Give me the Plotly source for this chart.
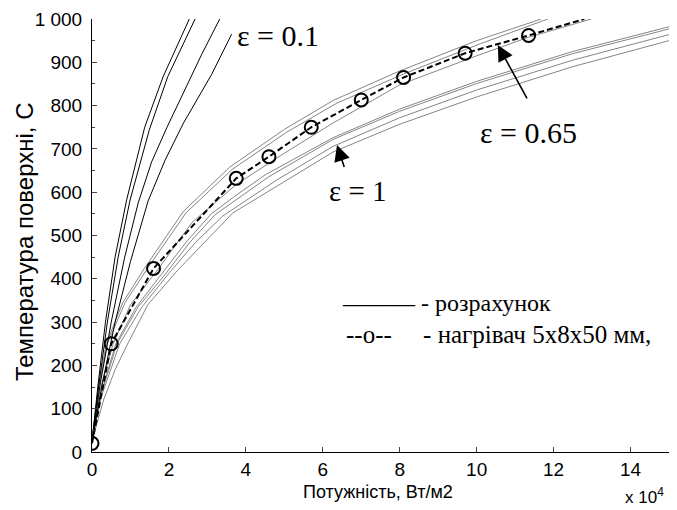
import plotly.graph_objects as go

# Surface temperature vs. heat flux: calculated curves for three emissivities
# and the measured heater curve.

# emissivity 0.1 (black curves)
p_e01_1 = [0, 0.15, 0.35, 0.6, 0.9, 1.37, 1.85, 2.53]
t_e01_1 = [22, 150, 300, 450, 582, 750, 867, 1000]
p_e01_2 = [0, 0.17, 0.4, 0.68, 0.99, 1.49, 1.97, 2.68]
t_e01_2 = [22, 150, 300, 450, 582, 744, 867, 1000]
p_e01_3 = [0, 0.2, 0.5, 0.85, 1.2, 1.55, 1.95, 2.4, 2.85, 3.32]
t_e01_3 = [22, 150, 300, 450, 575, 670, 750, 835, 918, 1000]
p_e01_4 = [0, 0.25, 0.6, 1.0, 1.46, 1.9, 2.38, 2.68, 3.11, 3.63]
t_e01_4 = [22, 150, 300, 440, 580, 674, 760, 805, 872, 965]

# emissivity 0.65 (grey curves)
p_e065_1 = [0, 0.15, 0.37, 0.8, 1.37, 2.37, 3.58, 5.0, 6.27, 8.0, 10.0, 11.68]
t_e065_1 = [25, 140, 250, 345, 425, 555, 658, 745, 812, 880, 950, 1000]
p_e065_2 = [0, 0.16, 0.4, 0.86, 1.45, 2.45, 3.65, 5.05, 6.35, 8.1, 10.1, 11.85]
t_e065_2 = [25, 140, 250, 345, 425, 553, 653, 738, 805, 873, 943, 1000]
p_e065_3 = [0, 0.2, 0.55, 1.0, 1.7, 2.6, 3.75, 5.0, 6.27, 8.0, 10.0, 11.35, 12.98]
t_e065_3 = [25, 140, 250, 340, 420, 530, 618, 690, 760, 848, 915, 958, 1000]

# emissivity 1 (grey curves)
p_e1_1 = [0, 0.2, 0.62, 1.15, 1.8, 2.45, 3.1, 3.7, 4.5, 6.27, 8.0, 10.0, 12.5, 15]
t_e1_1 = [25, 125, 250, 335, 410, 485, 550, 590, 640, 726, 792, 856, 925, 982]
p_e1_2 = [0, 0.21, 0.65, 1.2, 1.9, 2.55, 3.2, 3.8, 4.6, 6.27, 8.0, 10.0, 12.5, 15]
t_e1_2 = [25, 125, 250, 335, 410, 485, 548, 585, 636, 722, 787, 851, 920, 977]
p_e1_3 = [0, 0.23, 0.72, 1.3, 2.02, 2.7, 3.4, 4.8, 6.27, 8.0, 10.0, 12.5, 15]
t_e1_3 = [25, 125, 250, 335, 415, 485, 545, 628, 706, 772, 836, 905, 964]
p_e1_4 = [0, 0.3, 0.6, 0.94, 1.45, 2.23, 3.66, 5.0, 6.27, 8.0, 10.0, 12.5, 15]
t_e1_4 = [25, 120, 190, 252, 340, 420, 552, 625, 693, 757, 820, 890, 950]

# heater 5x8x50 mm, measured
meas_p = [0, 0.5, 1.6, 3.75, 4.6, 5.7, 7.0, 8.1, 9.7, 11.35]
meas_t = [20, 250, 424, 632, 682, 750, 813, 865, 921, 962]
trend_p = meas_p + [12.8]
trend_t = meas_t + [1000]

x_ticks = [0, 2, 4, 6, 8, 10, 12, 14]
y_ticks = [0, 100, 200, 300, 400, 500, 600, 700, 800, 900, 1000]
y_tick_text = ["0", "100", "200", "300", "400", "500", "600", "700", "800", "900", "1 000"]

black_curves = [(p_e01_1, t_e01_1), (p_e01_2, t_e01_2), (p_e01_3, t_e01_3), (p_e01_4, t_e01_4)]
grey_curves = [(p_e065_1, t_e065_1), (p_e065_2, t_e065_2), (p_e065_3, t_e065_3),
               (p_e1_1, t_e1_1), (p_e1_2, t_e1_2), (p_e1_3, t_e1_3), (p_e1_4, t_e1_4)]

fig = go.Figure()
for px, ty in grey_curves:
    fig.add_trace(go.Scatter(x=px, y=ty, mode="lines",
                             line=dict(color="#858585", width=1), hoverinfo="skip"))
for px, ty in black_curves:
    fig.add_trace(go.Scatter(x=px, y=ty, mode="lines",
                             line=dict(color="black", width=1), hoverinfo="skip"))
fig.add_trace(go.Scatter(x=trend_p, y=trend_t, mode="lines",
                         line=dict(color="black", width=2, dash="6px,3px")))
fig.add_trace(go.Scatter(x=meas_p, y=meas_t, mode="markers",
                         marker=dict(symbol="circle-open", size=13, color="black",
                                     line=dict(width=2, color="black"))))

serif = "Liberation Serif, Times New Roman, serif"
sans = "Liberation Sans, Arial, sans-serif"
nb = "\u00a0"

annotations = [
    dict(x=3.72, y=963, text="ε = 0.1", xanchor="left", yanchor="middle",
         showarrow=False, font=dict(family=serif, size=30, color="black")),
    dict(x=10.03, y=739, text="ε = 0.65", xanchor="left", yanchor="middle",
         showarrow=False, font=dict(family=serif, size=30, color="black")),
    dict(x=6.1, y=603, text="ε = 1", xanchor="left", yanchor="middle",
         showarrow=False, font=dict(family=serif, size=29, color="black")),
    # arrows
    dict(x=10.55, y=940, ax=11.33, ay=813, xref="x", yref="y", axref="x", ayref="y",
         text="", showarrow=True, arrowhead=2, arrowsize=2, arrowwidth=1.6,
         arrowcolor="black"),
    dict(x=6.37, y=709, ax=6.57, ay=655, xref="x", yref="y", axref="x", ayref="y",
         text="", showarrow=True, arrowhead=2, arrowsize=2, arrowwidth=1.6,
         arrowcolor="black"),
    # legend text
    dict(x=6.45, y=344, text="——— - розрахунок", xanchor="left", yanchor="middle",
         showarrow=False, font=dict(family=serif, size=24, color="black")),
    dict(x=6.55, y=272, text="--o--" + nb * 5 + "- нагрівач 5x8x50 мм,",
         xanchor="left", yanchor="middle",
         showarrow=False, font=dict(family=serif, size=25, color="black")),
    # axis titles
    dict(x=(378 - 92) / 577.5, y=-0.092, xref="paper", yref="paper",
         text="Потужність, Вт/м2", xanchor="center", yanchor="middle",
         showarrow=False, font=dict(family=sans, size=18, color="black")),
    dict(x=-0.116, y=0.485, xref="paper", yref="paper", textangle=-90,
         text="Температура поверхні, С", xanchor="center", yanchor="middle",
         showarrow=False, font=dict(family=sans, size=24, color="black")),
    # exponent of x axis
    dict(x=0.995, y=-0.102, xref="paper", yref="paper", text="x 10<sup>4</sup>",
         xanchor="right", yanchor="middle", showarrow=False,
         font=dict(family=sans, size=17, color="black")),
]

fig.update_layout(
    width=677, height=510,
    margin=dict(l=92, r=8, t=19, b=58),
    paper_bgcolor="white", plot_bgcolor="white",
    showlegend=False,
    font=dict(family=sans, size=18, color="black"),
    annotations=annotations,
    xaxis=dict(range=[0, 15], tickvals=x_ticks, ticks="inside", ticklen=5,
               showline=True, linecolor="black", linewidth=1, showgrid=False,
               zeroline=False, tickfont=dict(size=19)),
    yaxis=dict(range=[0, 1000], tickvals=y_ticks, ticktext=y_tick_text,
               ticks="inside", ticklen=5, showline=True, linecolor="black",
               linewidth=1, showgrid=False, zeroline=False, tickfont=dict(size=19),
               ticklabelstandoff=5,
               minor=dict(dtick=50, ticks="inside", ticklen=3, showgrid=False)),
)

fig.write_html("out.html")
